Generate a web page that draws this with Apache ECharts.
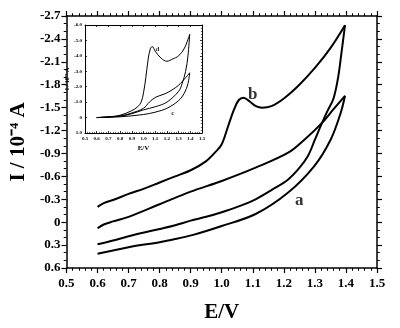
<!DOCTYPE html>
<html><head><meta charset="utf-8">
<script src="https://cdn.jsdelivr.net/npm/echarts@6/dist/echarts.min.js"></script>
<style>html,body{margin:0;padding:0;background:#fff}#c{width:400px;height:328px}</style>
</head><body><div id="c"></div>
<script>
// ---- Main chart data (E / V, I / 10^-4 A) ----
const bFwdE = [0.6,0.62,0.65,0.7,0.75,0.8,0.85,0.9,0.95,0.98,1.0,1.02,1.04,1.055,1.07,1.09,1.11,1.13,1.16,1.2,1.25,1.3,1.35,1.397];
const bFwdI = [-0.2,-0.25,-0.29,-0.37,-0.44,-0.52,-0.6,-0.68,-0.8,-0.92,-1.02,-1.25,-1.48,-1.6,-1.63,-1.58,-1.52,-1.5,-1.52,-1.62,-1.8,-2.02,-2.28,-2.58];
const bRevE = [1.397,1.385,1.375,1.36,1.341,1.323,1.3,1.278,1.25,1.214,1.16,1.109,1.05,1.0,0.95,0.9,0.85,0.8,0.75,0.7,0.65,0.6];
const bRevI = [-2.58,-2.2,-1.9,-1.62,-1.46,-1.3,-1.08,-0.87,-0.71,-0.56,-0.42,-0.3,-0.2,-0.13,-0.07,-0.02,0.04,0.09,0.135,0.184,0.24,0.29];
const aFwdE = [0.6,0.62,0.65,0.7,0.8,0.9,1.0,1.109,1.214,1.267,1.323,1.36,1.397];
const aFwdI = [0.08,0.03,-0.01,-0.07,-0.235,-0.4,-0.54,-0.714,-0.91,-1.083,-1.3,-1.48,-1.655];
const aRevE = [1.397,1.383,1.351,1.298,1.214,1.109,1.0,0.908,0.84,0.8,0.7,0.6];
const aRevI = [-1.655,-1.43,-1.083,-0.735,-0.389,-0.107,0.05,0.166,0.23,0.262,0.327,0.414];
// ---- Inset data (E / V, I / 10^-5 A) ----
const dFwdE = [0.6,0.7,0.8,0.9,0.95,0.98,1.0,1.02,1.04,1.06,1.075,1.1,1.15,1.2,1.25,1.3,1.35,1.395];
const dFwdI = [0,-0.05,-0.15,-0.45,-0.7,-1.0,-1.6,-2.6,-3.8,-4.5,-4.6,-4.3,-3.85,-3.65,-3.8,-4.0,-4.5,-5.4];
const dRevE = [1.395,1.38,1.36,1.33,1.3,1.2,1.1,1.0,0.9,0.8,0.6];
const dRevI = [-5.4,-4.0,-3.0,-2.2,-1.7,-1.0,-0.7,-0.5,-0.25,-0.1,0];
const cFwdE = [0.6,0.8,0.9,1.0,1.05,1.1,1.2,1.3,1.395];
const cFwdI = [0,-0.1,-0.3,-0.6,-1.0,-1.3,-1.6,-2.1,-2.9];
const cRevE = [1.395,1.38,1.35,1.3,1.2,1.1,1.0,0.8,0.6];
const cRevI = [-2.9,-2.2,-1.6,-1.1,-0.6,-0.35,-0.2,-0.05,0];
// ---- Tick settings and curve labels ----
const mainXTicks = {min:0.5, max:1.5, interval:0.1};
const mainYTicks = {min:-2.7, max:0.6, interval:0.3};
const insetXTicks = {min:0.5, max:1.5, interval:0.1};
const insetYTicks = {min:-6, max:1, interval:1};
const mainLabels = [{name:'a', E:1.25, I:-0.28}, {name:'b', E:1.1, I:-1.67}];
const insetLabels = [{name:'d', E:1.12, I:-4.4}, {name:'c', E:1.25, I:-0.26}];

const FONT = "'Liberation Serif','Times New Roman',serif";
const zip = (e, i) => e.map((v, k) => [v, i[k]]);
const fmt1 = v => { const r = Math.round(v * 10) / 10; return r === 0 ? '0' : r.toFixed(1); };

function axisBase(o, grid, pos, show, fs, mt, split, isY, z) {
  const a = {
    type:'value', gridIndex:grid, position:pos, min:o.min, max:o.max, interval:o.interval, z:z,
    axisLine:{show:true, onZero:false, lineStyle:{color:'#000', width:1.5}},
    axisTick:{show:true, inside:false, length:mt, lineStyle:{color:'#000', width:1.2}},
    minorTick:{show:true, splitNumber:split, length:mt*0.55, lineStyle:{color:'#000', width:1}},
    splitLine:{show:false},
    axisLabel:{show:show, color:'#000', fontFamily:FONT, fontWeight:'bold', fontSize:fs, formatter:fmt1}
  };
  if (isY) a.inverse = true;
  return a;
}

const xMain = axisBase(mainXTicks, 0, 'bottom', true, 13, 5, 5, false, 2);
xMain.axisLabel.margin = 9;
xMain.name = 'E/V'; xMain.nameLocation = 'middle'; xMain.nameGap = 34;
xMain.nameTextStyle = {color:'#000', fontFamily:FONT, fontWeight:'bold', fontSize:21};
const xMainTop = axisBase(mainXTicks, 0, 'top', false, 13, 5, 5, false, 2);
const yMain = axisBase(mainYTicks, 0, 'left', true, 13, 5, 3, true, 2);
yMain.axisLabel.margin = 6;
yMain.name = 'I / 10\u207B\u2074 A'; yMain.nameLocation = 'middle'; yMain.nameGap = 35;
yMain.nameTextStyle = {color:'#000', fontFamily:FONT, fontWeight:'bold', fontSize:21};
const yMainRight = axisBase(mainYTicks, 0, 'right', false, 13, 5, 3, true, 2);

const xIn = axisBase(insetXTicks, 1, 'bottom', true, 5, 2, 5, false, 20);
xIn.axisTick.inside = true;
xIn.axisLabel.margin = 3;
xIn.name = 'E/V'; xIn.nameLocation = 'middle'; xIn.nameGap = 12;
xIn.nameTextStyle = {color:'#000', fontFamily:FONT, fontWeight:'bold', fontSize:7};
const xInTop = axisBase(insetXTicks, 1, 'top', false, 5, 2, 5, false, 20); xInTop.axisTick.inside = true;
const yIn = axisBase(insetYTicks, 1, 'left', true, 5, 2, 5, true, 20);
yIn.axisTick.inside = true; yIn.axisLabel.margin = 3;
yIn.name = 'I / 10\u207B\u2075 A'; yIn.nameLocation = 'middle'; yIn.nameGap = 13;
yIn.nameTextStyle = {color:'#000', fontFamily:FONT, fontWeight:'bold', fontSize:6};
const yInRight = axisBase(insetYTicks, 1, 'right', false, 5, 2, 5, true, 20); yInRight.axisTick.inside = true;
[xIn, xInTop, yIn, yInRight].forEach(a => { a.axisLine.lineStyle.width = 1; a.axisTick.lineStyle.width = 0.8; a.minorTick.lineStyle.width = 0.6; });

function curve(e, i, grid, w) {
  return {type:'line', xAxisIndex:grid === 0 ? 0 : 2, yAxisIndex:grid === 0 ? 0 : 2, data:zip(e, i),
    showSymbol:false, symbol:'none', smooth:0.35, lineStyle:{color:'#000', width:w}, silent:true,
    z:grid === 0 ? 3 : 20};
}
function labels(arr, grid, fs) {
  return {type:'scatter', xAxisIndex:grid === 0 ? 0 : 2, yAxisIndex:grid === 0 ? 0 : 2, symbolSize:1,
    itemStyle:{color:'rgba(0,0,0,0)'}, silent:true, z:grid === 0 ? 4 : 21,
    data:arr.map(d => ({name:d.name, value:[d.E, d.I]})),
    label:{show:true, position:'inside', formatter:'{b}', color:'#000', fontFamily:FONT, fontWeight:'bold', fontSize:fs}};
}

const chart = echarts.init(document.getElementById('c'), null, {renderer:'canvas'});
chart.setOption({
  animation:false, backgroundColor:'#fff',
  grid:[{left:61, top:16, right:23, bottom:59}, {left:85, top:25, width:117, height:108, backgroundColor:'#fff', show:true, borderWidth:0, z:10}],
  xAxis:[xMain, xMainTop, xIn, xInTop],
  yAxis:[yMain, yMainRight, yIn, yInRight],
  series:[
    curve(bFwdE, bFwdI, 0, 2), curve(bRevE, bRevI, 0, 2), curve(aFwdE, aFwdI, 0, 2), curve(aRevE, aRevI, 0, 2),
    curve(dFwdE, dFwdI, 1, 1), curve(dRevE, dRevI, 1, 1), curve(cFwdE, cFwdI, 1, 1), curve(cRevE, cRevI, 1, 1),
    labels(mainLabels, 0, 17), labels(insetLabels, 1, 7)
  ]
});
</script></body></html>
